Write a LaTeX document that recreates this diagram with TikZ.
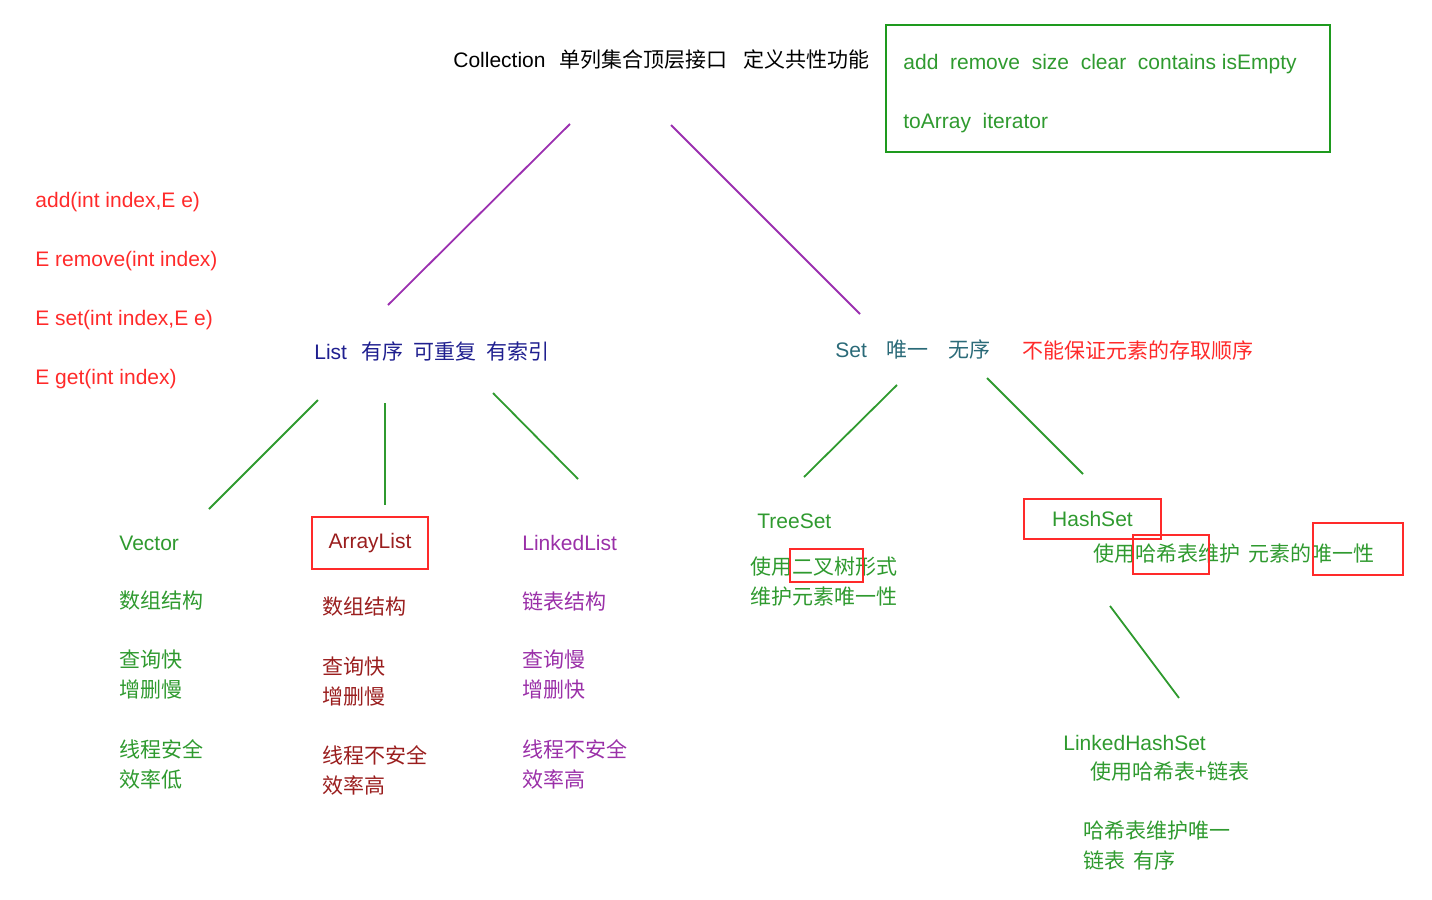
\documentclass[tikz,border=0pt]{standalone}
\usepackage{fontspec}
\setmainfont{Liberation Sans}
\newfontfamily\cjk{Noto Sans CJK SC}
\usetikzlibrary{positioning}
\definecolor{colRed}{HTML}{FF2A2A}
\definecolor{colGreen}{HTML}{2F9A2F}
\definecolor{colBoxGreen}{HTML}{1E9A1E}
\definecolor{colPurple}{HTML}{9B30B0}
\definecolor{colNavy}{HTML}{1F1F8F}
\definecolor{colTeal}{HTML}{2A6A78}
\definecolor{colDarkRed}{HTML}{9A1E1E}
\definecolor{colLilac}{HTML}{9A30A8}
\newcommand{\zh}[1]{{\cjk #1}}

\begin{document}
\begin{tikzpicture}[x=0.5pt,y=-0.5pt,
    txt/.style={anchor=west,inner sep=0pt,align=left,font=\fontsize{10.5}{15}\selectfont},
    hl/.style={draw=colRed,line width=1pt},
    treeline/.style={colPurple,line width=0.9pt},
    subline/.style={colGreen,line width=0.9pt}]
  \useasboundingbox (0,0) rectangle (1432,900);
  % top level
  \node[txt] (coll) at (453,60) {Collection\hspace{7pt}\zh{单列集合顶层接口}\hspace{8pt}\zh{定义共性功能}};
  \node[draw=colBoxGreen,line width=1pt,anchor=north west,minimum width=222pt,minimum height=63.5pt] (methods) at (885,24) {};
  \node[txt,text=colGreen] (meth1) at (903,64) {add~~remove~~size~~clear~~contains isEmpty};
  \node[txt,text=colGreen] (meth2) at (903,123) {toArray~~iterator};
  % list methods
  \node[txt,text=colRed] (m1) at (35,202) {add(int index,E e)};
  \node[txt,text=colRed] (m2) at (35,261) {E remove(int index)};
  \node[txt,text=colRed] (m3) at (35,320) {E set(int index,E e)};
  \node[txt,text=colRed] (m4) at (35,379) {E get(int index)};
  % second level
  \node[txt,text=colNavy] (list) at (314,351) {List\hspace{7pt}\zh{有序}\hspace{5pt}\zh{可重复}\hspace{5pt}\zh{有索引}};
  \node[txt,text=colTeal] (set) at (835,349) {Set\hspace{10pt}\zh{唯一}\hspace{10pt}\zh{无序}};
  \node[txt,text=colRed] (order) at (1022,351) {\zh{不能保证元素的存取顺序}};
  % Vector
  \node[txt,text=colGreen] (vec) at (119,543) {Vector};
  \node[txt,text=colGreen] (vec1) at (119,601) {\zh{数组结构}};
  \node[txt,text=colGreen] (vec2) at (119,675) {\zh{查询快}\\\zh{增删慢}};
  \node[txt,text=colGreen] (vec3) at (119,764) {\zh{线程安全}\\\zh{效率低}};
  % ArrayList
  \node[hl,minimum width=58pt,minimum height=26pt,text=colDarkRed,font=\fontsize{10.5}{15}\selectfont] (alist) at (370,543) {ArrayList};
  \node[txt,text=colDarkRed] (al1) at (322,607) {\zh{数组结构}};
  \node[txt,text=colDarkRed] (al2) at (322,682) {\zh{查询快}\\\zh{增删慢}};
  \node[txt,text=colDarkRed] (al3) at (322,770) {\zh{线程不安全}\\\zh{效率高}};
  % LinkedList
  \node[txt,text=colLilac] (llist) at (522,543) {LinkedList};
  \node[txt,text=colLilac] (ll1) at (522,601) {\zh{链表结构}};
  \node[txt,text=colLilac] (ll2) at (522,675) {\zh{查询慢}\\\zh{增删快}};
  \node[txt,text=colLilac] (ll3) at (522,764) {\zh{线程不安全}\\\zh{效率高}};
  % TreeSet
  \node[txt,text=colGreen] (tset) at (757,521) {TreeSet};
  \node[txt,text=colGreen] (ts1) at (750,582) {\zh{使用二叉树形式}\\\zh{维护元素唯一性}};
  \draw[hl] (790,549) rectangle (863,582);
  % HashSet
  \node[hl,minimum width=68.5pt,minimum height=20pt,text=colGreen,font=\fontsize{10.5}{15}\selectfont] (hset) at (1092.5,519) {HashSet};
  \node[txt,text=colGreen] (hs1) at (1093,554) {\zh{使用哈希表维护}\hspace{4pt}\zh{元素的唯一性}};
  \draw[hl] (1133,535) rectangle (1209,574);
  \draw[hl] (1313,523) rectangle (1403,575);
  % LinkedHashSet
  \node[txt,text=colGreen] (lhset) at (1063,743) {LinkedHashSet};
  \node[txt,text=colGreen] (lh1) at (1090,772) {\zh{使用哈希表+链表}};
  \node[txt,text=colGreen] (lh2) at (1083,846) {\zh{哈希表维护唯一}\\\zh{链表}\hspace{4pt}\zh{有序}};
  % connector ends
  \coordinate (collL) at (570,124);  \coordinate (listT) at (388,305);
  \coordinate (collR) at (671,125);  \coordinate (setT) at (860,314);
  \coordinate (listA) at (318,400);  \coordinate (vecT) at (209,509);
  \coordinate (listB) at (385,403);  \coordinate (alT) at (385,505);
  \coordinate (listC) at (493,393);  \coordinate (llT) at (578,479);
  \coordinate (setA) at (897,385);   \coordinate (tsT) at (804,477);
  \coordinate (setB) at (987,378);   \coordinate (hsT) at (1083,474);
  \coordinate (hsB) at (1110,606);   \coordinate (lhT) at (1179,698);
  \draw[treeline] (collL) -- (listT);
  \draw[treeline] (collR) -- (setT);
  \foreach \a/\b in {listA/vecT,listB/alT,listC/llT,setA/tsT,setB/hsT,hsB/lhT}
    \draw[subline] (\a) -- (\b);
\end{tikzpicture}
\end{document}
